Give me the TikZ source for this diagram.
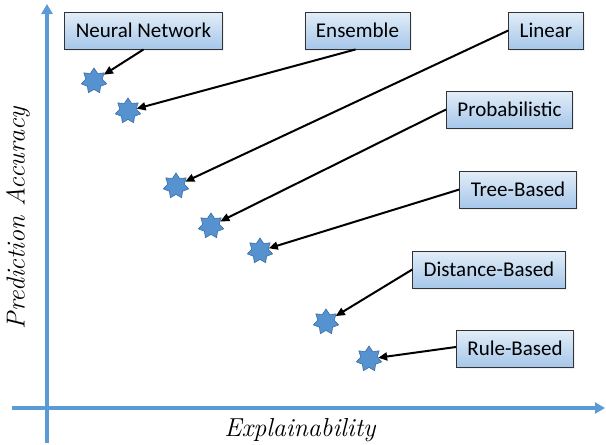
\documentclass[tikz,border=0pt]{standalone}
\usepackage{fontspec}
\newfontfamily\boxfont{Carlito}
\usetikzlibrary{shapes.geometric,arrows.meta,shadows}
\definecolor{axisblue}{RGB}{91,155,213}
\definecolor{starblue}{RGB}{86,146,207}
\definecolor{stardark}{RGB}{60,110,160}
\definecolor{boxtop}{RGB}{226,237,248}
\definecolor{boxbot}{RGB}{166,199,234}
\tikzset{
  catbox/.style={draw=black!80, line width=0.9pt, top color=boxtop, bottom color=boxbot,
    font=\boxfont\fontsize{21}{24}\selectfont, minimum height=37pt, inner xsep=11pt,
    inner ysep=0pt, anchor=center,
    drop shadow={opacity=0.12, shadow xshift=1.5pt, shadow yshift=-1.5pt}},
  pt/.style={star, star points=7, star point ratio=1.55, minimum size=26pt, inner sep=0pt,
    fill=starblue, draw=stardark, line width=0.6pt},
  link/.style={line width=2pt, -{Triangle[length=9pt,width=8pt]}},
  axis/.style={draw=axisblue, line width=3.5pt},
  axlabel/.style={font=\itshape\fontsize{26}{30}\selectfont}
}
\begin{document}
\begin{tikzpicture}[x=1pt,y=-1pt]
\useasboundingbox (0,0) rectangle (606,445);
% axes
\coordinate (yb) at (47,443);
\coordinate (yt) at (47,4);
\coordinate (xl) at (12,408);
\coordinate (xr) at (605,408);
\draw[axis, -{Triangle[length=10pt,width=11pt]}] (yb) -- (yt);
\draw[axis, -{Triangle[length=10pt,width=11pt]}] (xl) -- (xr);
\node[axlabel] (xlab) at (300,430) {Explainability};
\node[axlabel, rotate=90] (ylab) at (18,218) {Prediction Accuracy};
% boxes
\node[catbox] (nn) at (143.5,30.5) {Neural Network};
\node[catbox] (en) at (357.5,30.5) {Ensemble};
\node[catbox] (li) at (546,30.5) {Linear};
\node[catbox] (pr) at (509.5,109.5) {Probabilistic};
\node[catbox] (tr) at (518,189.5) {Tree-Based};
\node[catbox] (di) at (489,269.5) {Distance-Based};
\node[catbox] (ru) at (515,348.5) {Rule-Based};
% stars
\node[pt] (snn) at (94,81) {};
\node[pt] (sen) at (128,111) {};
\node[pt] (sli) at (176,186) {};
\node[pt] (spr) at (211,226) {};
\node[pt] (str) at (260,251) {};
\node[pt] (sdi) at (326,322) {};
\node[pt] (sru) at (369,359) {};
% links
\draw[link] (nn.south) -- (snn);
\draw[link] ([xshift=-2pt]en.south) -- (sen);
\draw[link] (li.west) -- (sli);
\draw[link] (pr.west) -- (spr);
\draw[link] (tr.west) -- (str);
\draw[link] (di.west) -- (sdi);
\draw[link] ([yshift=1.5pt]ru.west) -- (sru);
\end{tikzpicture}
\end{document}
